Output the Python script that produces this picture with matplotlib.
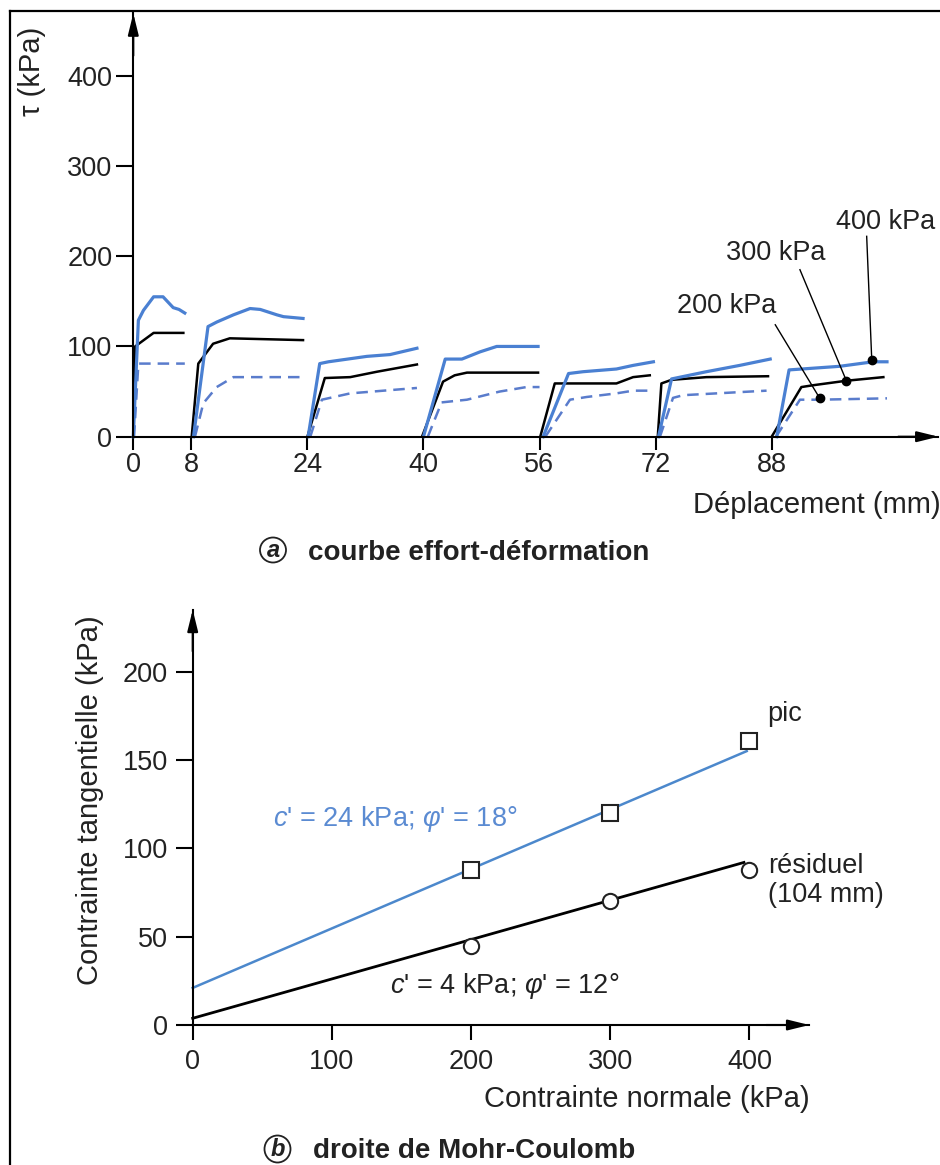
import matplotlib
matplotlib.use('Agg')
import matplotlib.pyplot as plt
from matplotlib.lines import Line2D
from matplotlib.patches import Ellipse

plt.rcParams['font.family'] = ['Liberation Sans', 'DejaVu Sans']
plt.rcParams['mathtext.fontset'] = 'custom'
plt.rcParams['mathtext.rm'] = 'Liberation Sans'
plt.rcParams['mathtext.it'] = 'Liberation Sans:italic'
plt.rcParams['mathtext.bf'] = 'Liberation Sans:bold'

# ------------------------------------------------------------------ data (a)
# 400 kPa (blue solid), one list per shear cycle
s400_x = [[0, 0.7, 1.4, 2.8, 4.1, 5.5, 6.3, 7.1],
          [8.3, 10.3, 11.5, 13.8, 16.1, 17.5, 19.8, 20.7, 23.4],
          [24.1, 25.7, 26.9, 32.2, 35.4, 39.1],
          [40.0, 43.0, 45.3, 47.8, 50.1, 55.8],
          [56.5, 60.0, 62.0, 66.6, 68.9, 71.7],
          [72.4, 74.2, 79.0, 83.6, 87.8],
          [88.7, 90.4, 97.4, 102.0, 103.9]]
s400_y = [[0, 129, 140, 155, 155, 143, 141, 137],
          [0, 122, 127, 135, 142, 141, 135, 133, 131],
          [0, 81, 83, 89, 91, 98],
          [0, 86, 86, 94, 100, 100],
          [0, 70, 72, 75, 79, 83],
          [0, 64, 72, 79, 86],
          [0, 74, 78, 83, 83]]
# 300 kPa (black solid)
s300_x = [[0, 0.25, 2.8, 6.9],
          [8.05, 8.96, 11.0, 13.3, 23.4],
          [24.0, 26.4, 29.9, 33.6, 39.1],
          [39.8, 42.7, 44.3, 46.0, 55.8],
          [56.1, 58.1, 66.6, 68.9, 71.2],
          [72.3, 72.8, 74.2, 79.0, 87.5],
          [88.0, 92.1, 93.7, 98.3, 103.4]]
s300_y = [[0, 100, 115, 115],
          [0, 81, 103, 109, 107],
          [0, 65, 66, 72, 80],
          [0, 61, 68, 71, 71],
          [0, 59, 59, 66, 68],
          [0, 59, 63, 66, 67],
          [0, 55, 57, 62, 66]]
# 200 kPa (blue dashed)
s200_x = [[0.1, 0.7, 7.1],
          [8.5, 9.65, 11.5, 13.8, 23.4],
          [24.4, 26.0, 29.9, 39.1],
          [40.6, 42.5, 46.0, 50.5, 54.2, 56.0],
          [56.8, 60.2, 62.5, 66.6, 68.9, 71.7],
          [72.6, 74.4, 75.8, 87.3],
          [88.6, 91.9, 94.6, 103.9]]
s200_y = [[0, 81, 81],
          [0, 37, 55, 66, 66],
          [0, 41, 48, 54],
          [0, 38, 41, 50, 55, 55],
          [0, 41, 44, 48, 51, 51],
          [0, 43, 46, 51],
          [0, 41, 41, 42.5]]

residual_dot_x = [94.6, 98.3, 101.8]
residual_dot_y = [43, 62, 85]
pressure_labels = ['200 kPa', '300 kPa', '400 kPa']

xticks_a = [0, 8, 24, 40, 56, 72, 88]
yticks_a = [0, 100, 200, 300, 400]

# ------------------------------------------------------------------ data (b)
sigma_n = [200, 300, 400]
tau_pic = [88, 120, 161]
tau_res = [44.7, 70, 88]
pic_line_x = [0, 398]
pic_line_y = [21, 155]
res_line_x = [0, 396]
res_line_y = [3.8, 92]

xticks_b = [0, 100, 200, 300, 400]
yticks_b = [0, 50, 100, 150, 200]

# ------------------------------------------------------------------ figure
W, H = 940, 1165
fig = plt.figure(figsize=(W / 100, H / 100), dpi=100)
fig.patch.set_facecolor('white')


def fx(px):
    return px / W


def fy(py):
    return 1 - py / H


BLUE = '#4a80d2'
DASH = '#5a7ccc'
TXT = '#222222'
FS = 19.5      # tick labels and annotations
FS_LAB = 21    # axis titles
FS_CAP = 20    # captions

# --- panel a axes: x=0 at px 133.3, 7.254 px/mm; y=0 at px 436.7, 0.9026 px/kPa
xa_max, ya_max = 111, 469
ax1 = fig.add_axes([fx(133.3), fy(436.7), xa_max * 7.254 / W, ya_max * 0.9026 / H])
ax1.set_xlim(0, xa_max)
ax1.set_ylim(0, ya_max)

for xs, ys in zip(s200_x, s200_y):
    ax1.plot(xs, ys, color=DASH, lw=1.8, linestyle=(0, (4.6, 2.8)), clip_on=False)
for xs, ys in zip(s300_x, s300_y):
    ax1.plot(xs, ys, color='black', lw=1.8, clip_on=False, solid_joinstyle='round')
for xs, ys in zip(s400_x, s400_y):
    ax1.plot(xs, ys, color=BLUE, lw=2.3, clip_on=False, solid_joinstyle='round')

ax1.plot(residual_dot_x, residual_dot_y, 'o', color='black', ms=6, zorder=5)

label_pos = [(81.8, 145), (88.6, 204), (103.7, 238)]
leader_top = [(88.5, 124), (91.9, 185), (101.1, 222)]
for lab, (tx, ty), (lx, ly), dx, dy in zip(pressure_labels, label_pos, leader_top,
                                         residual_dot_x, residual_dot_y):
    ax1.text(tx, ty, lab, ha='center', va='center', fontsize=FS, color=TXT)
    ax1.plot([lx, dx], [ly, dy], color='black', lw=1.0)

for s in ['top', 'right']:
    ax1.spines[s].set_visible(False)
for s in ['left', 'bottom']:
    ax1.spines[s].set_linewidth(1.5)
ax1.set_xticks(xticks_a)
ax1.set_xticklabels([str(v) for v in xticks_a])
ax1.set_yticks(yticks_a)
ax1.set_yticklabels([str(v) for v in yticks_a])
ax1.tick_params(axis='x', direction='out', length=9, width=1.5, pad=2, labelsize=FS,
                labelcolor=TXT)
ax1.tick_params(axis='y', direction='out', length=12, width=1.5, pad=3, labelsize=FS,
                labelcolor=TXT)

arrow_kw = dict(arrowstyle='-|>,head_length=1.3,head_width=0.32', lw=1.5, color='black',
                shrinkA=0, shrinkB=0)
ax1.annotate('', xy=(0, 1), xycoords='axes fraction', xytext=(0, 0.9), textcoords='axes fraction',
             arrowprops=arrow_kw)
ax1.annotate('', xy=(1, 0), xycoords='axes fraction', xytext=(0.95, 0), textcoords='axes fraction',
             arrowprops=arrow_kw)

fig.text(fx(31.7), fy(27), 'τ (kPa)', rotation=90, ha='center', va='top', fontsize=FS_LAB,
         color=TXT)
fig.text(fx(693), fy(513), 'Déplacement (mm)', ha='left', va='baseline', fontsize=FS_LAB,
         color=TXT)

# caption a
fig.add_artist(Ellipse((fx(273), fy(550)), 26 / W, 25 / H, transform=fig.transFigure,
                       fill=False, ec=TXT, lw=1.3))
fig.text(fx(273), fy(550.5), 'a', ha='center', va='center', fontsize=17, style='italic',
         weight='bold', color=TXT)
fig.text(fx(308), fy(560), 'courbe effort-déformation', ha='left', va='baseline',
         fontsize=FS_CAP, weight='bold', color=TXT)

# --- panel b axes: x=0 at px 192.7, 1.392 px/kPa; y=0 at px 1025, 1.767 px/kPa
xb_max, yb_max = 443, 235
ax2 = fig.add_axes([fx(192.7), fy(1025), xb_max * 1.392 / W, yb_max * 1.767 / H])
ax2.set_xlim(0, xb_max)
ax2.set_ylim(0, yb_max)

ax2.plot(pic_line_x, pic_line_y, color='#4c88cc', lw=1.8, clip_on=False)
ax2.plot(res_line_x, res_line_y, color='black', lw=2.0, clip_on=False)
ax2.plot(sigma_n, tau_pic, linestyle='none', marker='s', ms=12, mfc='white', mec=TXT,
         mew=1.5, zorder=5, clip_on=False)
ax2.plot(sigma_n, tau_res, linestyle='none', marker='o', ms=11, mfc='white', mec=TXT,
         mew=1.5, zorder=5, clip_on=False)

for s in ['top', 'right']:
    ax2.spines[s].set_visible(False)
for s in ['left', 'bottom']:
    ax2.spines[s].set_linewidth(1.5)
ax2.set_xticks(xticks_b)
ax2.set_xticklabels([str(v) for v in xticks_b])
ax2.set_yticks(yticks_b)
ax2.set_yticklabels([str(v) for v in yticks_b])
ax2.tick_params(axis='x', direction='out', length=11, width=1.5, pad=6, labelsize=FS,
                labelcolor=TXT)
ax2.tick_params(axis='y', direction='out', length=12, width=1.5, pad=6, labelsize=FS,
                labelcolor=TXT)
ax2.annotate('', xy=(0, 1), xycoords='axes fraction', xytext=(0, 0.9), textcoords='axes fraction',
             arrowprops=arrow_kw)
ax2.annotate('', xy=(1, 0), xycoords='axes fraction', xytext=(0.93, 0), textcoords='axes fraction',
             arrowprops=arrow_kw)

fig.text(fx(767), fy(721), 'pic', ha='left', va='baseline', fontsize=FS, color=TXT)
fig.text(fx(768), fy(873), 'résiduel', ha='left', va='baseline', fontsize=FS, color=TXT)
fig.text(fx(768), fy(902), '(104 mm)', ha='left', va='baseline', fontsize=FS, color=TXT)
fig.text(fx(273), fy(826), "$c$' = 24 kPa; $\\varphi$' = 18°", ha='left', va='baseline',
         fontsize=FS, color='#5b8bd2')
fig.text(fx(390), fy(993), "$c$' = 4 kPa; $\\varphi$' = 12°", ha='left', va='baseline',
         fontsize=FS, color=TXT)
fig.text(fx(810), fy(1107), 'Contrainte normale (kPa)', ha='right', va='baseline',
         fontsize=FS_LAB, color=TXT)
fig.text(fx(90), fy(800), 'Contrainte tangentielle (kPa)', rotation=90, ha='center',
         va='center', fontsize=FS_LAB, color=TXT)

# caption b
fig.add_artist(Ellipse((fx(277.5), fy(1149)), 26 / W, 27 / H, transform=fig.transFigure,
                       fill=False, ec=TXT, lw=1.3))
fig.text(fx(277.5), fy(1149.5), 'b', ha='center', va='center', fontsize=17, style='italic',
         weight='bold', color=TXT)
fig.text(fx(313), fy(1158), 'droite de Mohr-Coulomb', ha='left', va='baseline',
         fontsize=FS_CAP, weight='bold', color=TXT)

# page frame (top and left edges)
fig.add_artist(Line2D([fx(10), fx(940)], [fy(11), fy(11)], transform=fig.transFigure,
                      color='black', lw=1.6))
fig.add_artist(Line2D([fx(10), fx(10)], [fy(11), fy(1165)], transform=fig.transFigure,
                      color='black', lw=1.6))

fig.savefig('out.png', dpi=100, facecolor='white')
